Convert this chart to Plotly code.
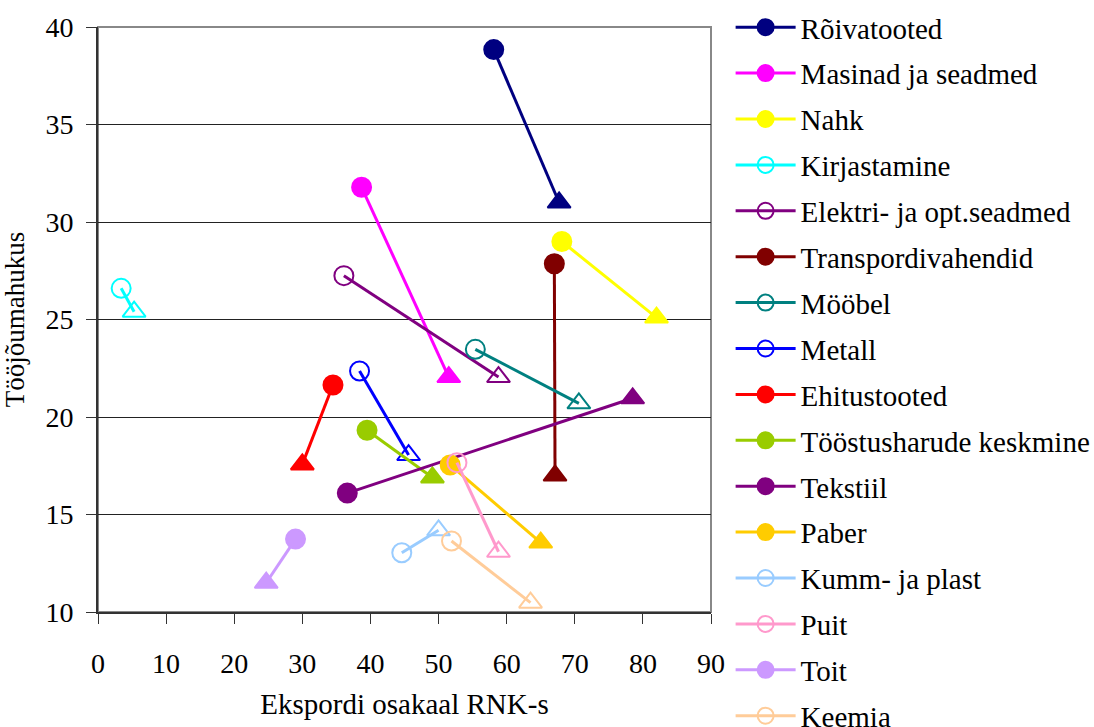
import plotly.graph_objects as go

names = ["Rõivatooted", "Masinad ja seadmed", "Nahk", "Kirjastamine",
         "Elektri- ja opt.seadmed", "Transpordivahendid", "Mööbel", "Metall",
         "Ehitustooted", "Tööstusharude keskmine", "Tekstiil", "Paber",
         "Kumm- ja plast", "Puit", "Toit", "Keemia"]
x_start = [58.1, 38.7, 68.1, 3.4, 36.1, 67.0, 55.4, 38.4, 34.5, 39.5, 36.6, 51.7, 44.6, 52.7, 29.0, 51.9]
y_start = [38.84, 31.78, 29.0, 26.6, 27.25, 27.86, 23.47, 22.36, 21.64, 19.32, 16.1, 17.54, 13.04, 17.66, 13.74, 13.64]
x_end = [67.7, 51.5, 82.0, 5.3, 58.8, 67.1, 70.6, 45.6, 30.0, 49.1, 78.5, 65.0, 50.0, 58.8, 24.7, 63.5]
y_end = [31.0, 22.05, 25.1, 25.4, 22.05, 17.0, 20.7, 18.05, 17.57, 16.9, 20.96, 13.56, 14.19, 13.09, 11.5, 10.48]
colors = ["#000080", "#FF00FF", "#FFFF00", "#00FFFF", "#800080", "#800000", "#008080", "#0000FF",
          "#FF0000", "#99CC00", "#800080", "#FFCC00", "#99CCFF", "#FF99CC", "#CC99FF", "#FFCC99"]
hollow = [False, False, False, True, True, False, True, True,
          False, False, False, False, True, True, False, True]

x_ticks = list(range(0, 91, 10))
y_ticks = list(range(10, 41, 5))

FONT = "Times New Roman, Liberation Serif, serif"
fig = go.Figure()
for i, n in enumerate(names):
    sym = ["circle-open", "triangle-up-open"] if hollow[i] else ["circle", "triangle-up"]
    fig.add_trace(go.Scatter(
        x=[x_start[i], x_end[i]], y=[y_start[i], y_end[i]],
        mode="lines+markers", name=n, legendgroup=n,
        line=dict(color=colors[i], width=3),
        marker=dict(symbol=sym, size=[19, 20], color=colors[i], opacity=1,
                    line=dict(color=colors[i], width=2)),
        cliponaxis=False,
    ))

fig.add_shape(type="rect", xref="paper", yref="paper", x0=0, y0=0, x1=1, y1=1,
              line=dict(color="#888888", width=2), layer="below")

fig.update_layout(
    width=1094, height=727,
    margin=dict(l=98, r=383, t=27, b=115, autoexpand=False),
    paper_bgcolor="white", plot_bgcolor="white",
    font=dict(family=FONT, size=28, color="black"),
    showlegend=True,
    legend=dict(x=1.032, y=1.043, xanchor="left", yanchor="top",
                font=dict(family=FONT, size=29), itemwidth=60,
                traceorder="grouped", tracegroupgap=5.2, maxheight=2000,
                bgcolor="rgba(0,0,0,0)"),
    xaxis=dict(range=[0, 90], tickvals=x_ticks, ticks="outside", ticklen=10,
               tickcolor="#333", showline=True, linecolor="#333", linewidth=2,
               showgrid=False, zeroline=False, ticklabelstandoff=15,
               tickfont=dict(family=FONT, size=28),
               title=dict(text="Ekspordi osakaal RNK-s", font=dict(family=FONT, size=29), standoff=16)),
    yaxis=dict(range=[10, 40], tickvals=y_ticks, ticks="outside", ticklen=10,
               tickcolor="#333", showline=True, linecolor="#333", linewidth=2,
               showgrid=True, gridcolor="#222", gridwidth=1, zeroline=False,
               ticklabelstandoff=7, tickfont=dict(family=FONT, size=28),
               title=dict(text="Tööjõumahukus", font=dict(family=FONT, size=27), standoff=14)),
)
fig.write_html("out.html")
